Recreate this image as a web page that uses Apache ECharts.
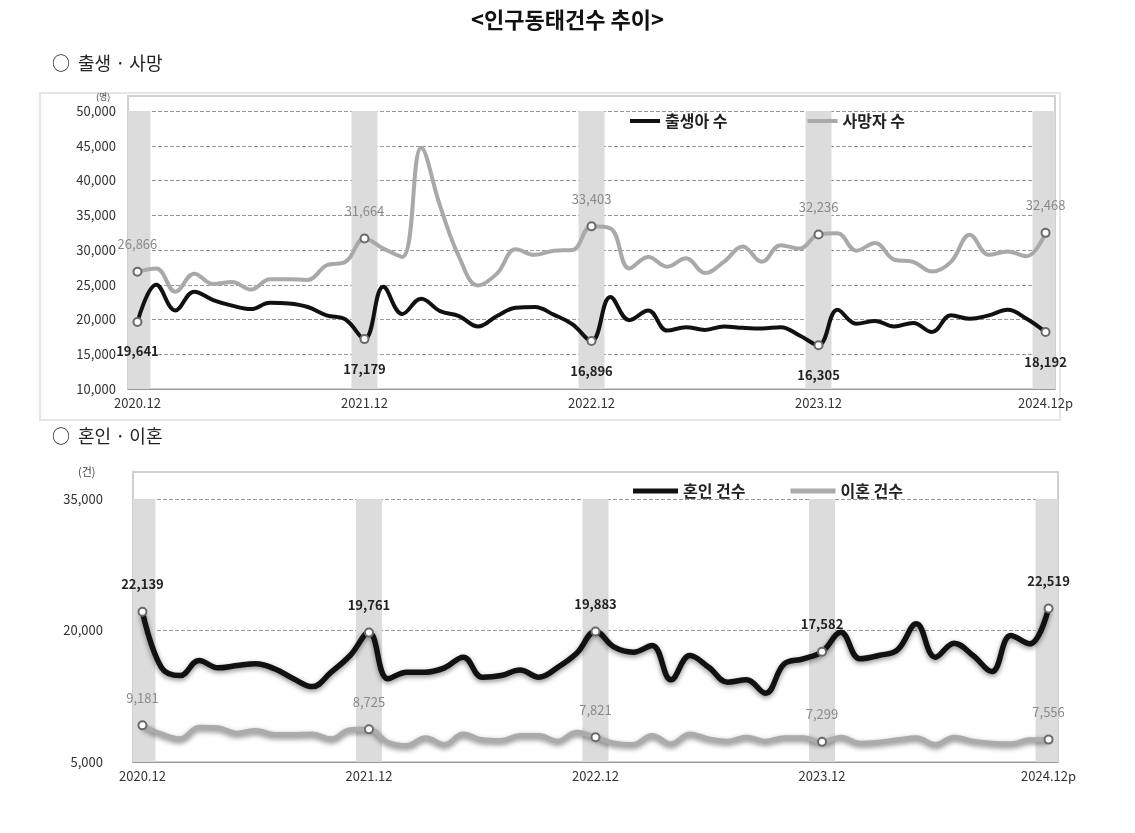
<!DOCTYPE html>
<html><head><meta charset="utf-8">
<script src="https://cdn.jsdelivr.net/npm/echarts@6/dist/echarts.min.js"></script>
<style>html,body{margin:0;background:#fff}#c{width:1135px;height:833px}</style>
</head><body><div id="c"></div>
<script>
const categories = ['2020.12','2021.01','2021.02','2021.03','2021.04','2021.05','2021.06','2021.07','2021.08','2021.09','2021.10','2021.11','2021.12','2022.01','2022.02','2022.03','2022.04','2022.05','2022.06','2022.07','2022.08','2022.09','2022.10','2022.11','2022.12','2023.01','2023.02','2023.03','2023.04','2023.05','2023.06','2023.07','2023.08','2023.09','2023.10','2023.11','2023.12','2024.01','2024.02','2024.03','2024.04','2024.05','2024.06','2024.07','2024.08','2024.09','2024.10','2024.11','2024.12p'];
const births = [19641,25000,21300,24000,22800,22000,21500,22400,22300,21800,20600,20000,17179,24700,20800,23000,21200,20500,19000,20500,21700,21800,20700,19300,16896,23250,19900,21300,18400,18900,18500,19000,18800,18700,18900,17700,16305,21400,19400,19800,19000,19500,18200,20600,20100,20600,21400,20100,18192];
const deaths = [26866,27350,24000,26600,25100,25400,24300,25800,25800,25700,27800,28300,31664,30200,29000,44700,36300,29000,24900,26600,30100,29300,29900,30000,33403,33100,27350,29000,27600,28800,26700,28300,30500,28300,30700,30200,32236,32400,29900,31000,28600,28300,26900,28300,32200,29300,29800,29100,32468];
const marriages = [22139,15800,14870,16580,15740,16000,16200,15630,14500,13600,15250,17150,19761,14500,15250,15250,15740,16960,14680,14870,15500,14680,15800,17400,19883,18100,17530,18290,14370,17150,15800,14100,14370,12850,16200,16770,17582,19800,16770,17150,17800,20760,16960,18550,17150,15320,19430,18480,22519];
const divorces = [9181,8200,7640,8970,8900,8290,8600,8140,8140,8200,7640,8670,8725,7260,6880,7760,7000,8200,7530,7450,8020,8020,7380,8400,7821,7150,7000,8020,7070,8200,7640,7380,7830,7380,7760,7760,7299,7830,7150,7260,7530,7760,7000,7830,7380,7150,7070,7530,7556];
const topTicks = {min:10000, max:50000, interval:5000};
const botTicks = {min:5000, max:35000, interval:15000};

const isDec = i => i % 12 === 0;
const fmt = v => String(v).replace(/\B(?=(\d{3})+(?!\d))/g, ',');
const font = 'Noto Sans CJK KR';
const chart = echarts.init(document.getElementById('c'));

function band(max, gi) {
  return {type:'bar', xAxisIndex:gi, yAxisIndex:gi, data:categories.map((c,i)=>isDec(i)?max:null),
    barWidth:26, barGap:'-100%', itemStyle:{color:'#dcdcdc'}, silent:true, zlevel:0, z:1};
}
function line(name, data, gi, color, width, labelPos, labelColor, bold, shadow) {
  return {type:'line', name, xAxisIndex:gi, yAxisIndex:gi, data, smooth:0.4, zlevel:1, z:5,
    symbol:'emptyCircle', symbolSize:(v,p)=>isDec(p.dataIndex)?8:0,
    lineStyle:Object.assign({color, width}, shadow?{shadowColor:'rgba(0,0,0,0.45)', shadowBlur:5, shadowOffsetY:2}:{}),
    itemStyle:{color:'#6a6a6a', borderWidth:2},
    label:{show:true, position:labelPos, distance:labelPos==='bottom'?18:16, color:labelColor, fontWeight:bold?'bold':'normal',
      fontSize:13, fontFamily:font, formatter:p=>isDec(p.dataIndex)?fmt(p.value):''}};
}
const xAx = (gi) => ({type:'category', gridIndex:gi, data:categories, boundaryGap:true,
  axisLine:{lineStyle:{color:'#999'}}, axisTick:{interval:(i)=>isDec(i), alignWithLabel:false, lineStyle:{color:'#999'}},
  axisLabel:{interval:(i)=>isDec(i), color:'#333', fontSize:13, fontFamily:font, margin:8}});
const legItem = (name, color) => ({name, itemStyle:{color, borderWidth:0}});

chart.setOption({
  animation:false,
  textStyle:{fontFamily:font},
  title:{text:'<인구동태건수 추이>', left:'center', top:4, textStyle:{fontSize:22, fontWeight:'bold', color:'#111', fontFamily:font}},
  graphic:[
    {type:'text', left:52, top:54, style:{text:'○  출생 · 사망', fontSize:18, fill:'#222', fontFamily:font}},
    {type:'text', left:52, top:427, style:{text:'○  혼인 · 이혼', fontSize:18, fill:'#222', fontFamily:font}},
    {type:'rect', shape:{x:40, y:93, width:1020, height:327}, style:{fill:'none', stroke:'#e6e6e6', lineWidth:2}, z:-1},
    {type:'rect', shape:{x:128, y:96, width:927, height:293}, style:{fill:'none', stroke:'#d0d0d0', lineWidth:2}, z:-1},
    {type:'rect', shape:{x:133, y:472, width:925, height:290}, style:{fill:'none', stroke:'#d0d0d0', lineWidth:2}, z:-1},
    {type:'text', left:96, top:92, style:{text:'(명)', fontSize:9, fill:'#444', fontFamily:font}},
    {type:'text', left:78, top:466, style:{text:'(건)', fontSize:11, fill:'#444', fontFamily:font}}
  ],
  legend:[
    {data:[legItem('출생아 수','#111'), legItem('사망자 수','#a9a9a9')], left:625, top:108, itemWidth:30, itemHeight:4, icon:'rect', itemGap:80,
      textStyle:{fontSize:16, fontWeight:'bold', color:'#222', fontFamily:font}},
    {data:[legItem('혼인 건수','#111'), legItem('이혼 건수','#ababab')], left:628, top:478, itemWidth:45, itemHeight:5, icon:'rect', itemGap:45,
      textStyle:{fontSize:16, fontWeight:'bold', color:'#222', fontFamily:font}}
  ],
  grid:[
    {left:128, right:80, top:111, bottom:444},
    {left:133, right:77, top:499, bottom:71}
  ],
  xAxis:[xAx(0), xAx(1)],
  yAxis:[
    Object.assign({type:'value', gridIndex:0, axisLabel:{formatter:fmt, color:'#333', fontSize:13, fontFamily:font, margin:12},
      splitLine:{lineStyle:{type:'dashed', color:'#999'}}, axisLine:{show:false}}, topTicks),
    Object.assign({type:'value', gridIndex:1, axisLabel:{formatter:fmt, color:'#333', fontSize:13, fontFamily:font, margin:30},
      splitLine:{lineStyle:{type:'dashed', color:'#999'}}, axisLine:{show:false}}, botTicks)
  ],
  series:[
    band(50000,0),
    line('사망자 수', deaths, 0, '#a9a9a9', 4, 'top', '#8a8a8a', false, false),
    line('출생아 수', births, 0, '#111', 4, 'bottom', '#222', true, false),
    band(35000,1),
    line('이혼 건수', divorces, 1, '#ababab', 5, 'top', '#8a8a8a', false, true),
    line('혼인 건수', marriages, 1, '#111', 5.5, 'top', '#222', true, true)
  ]
});
</script></body></html>
